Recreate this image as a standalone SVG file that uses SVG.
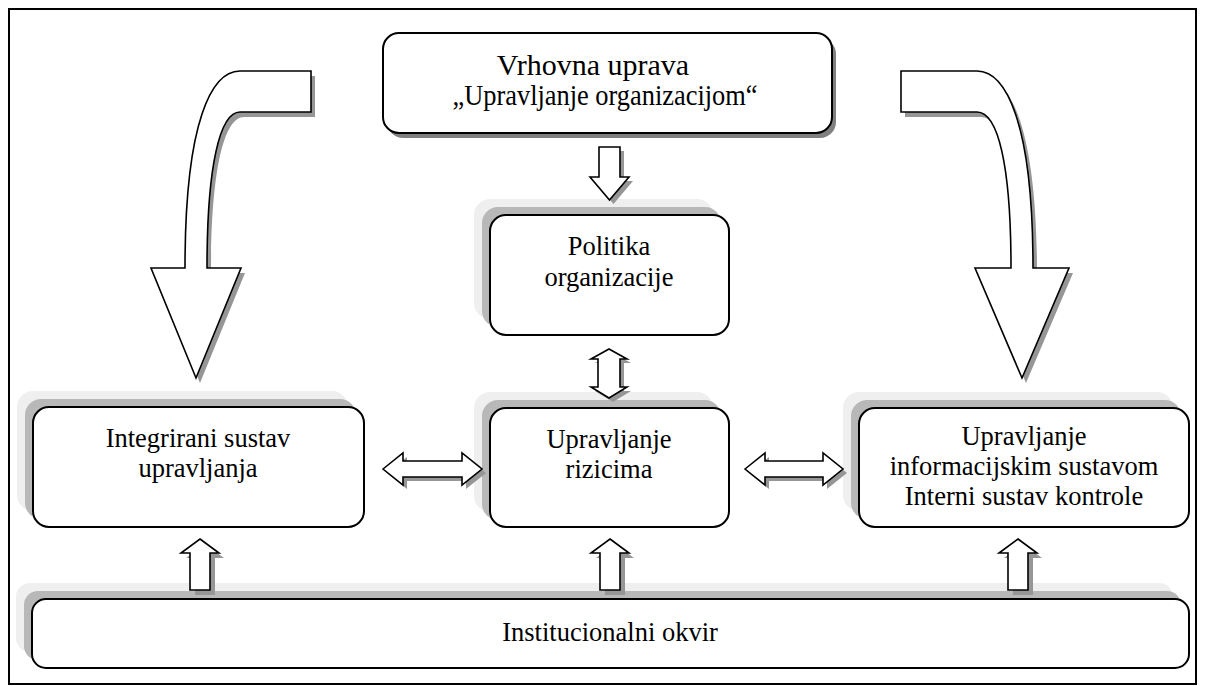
<svg xmlns="http://www.w3.org/2000/svg" width="1206" height="686" viewBox="0 0 1206 686">
<defs>
<style>
.box{fill:#fff;stroke:#000;stroke-width:2}
.sh1{fill:#efefef}
.sh2{fill:#b8b8b8}
.ash{fill:#969696}
.arr{fill:#fff;stroke:#000;stroke-width:1.6;stroke-linejoin:miter}
text{font-family:"Liberation Serif","Times New Roman",serif;font-size:26.5px;fill:#000;text-anchor:middle}
</style>
</defs>
<rect x="0" y="0" width="1206" height="686" fill="#fff"/>
<rect x="9" y="9" width="1187" height="675" fill="none" stroke="#000" stroke-width="2"/>

<g id="vrhovna">
  <rect x="387" y="38" width="449" height="100" rx="16" fill="#808080"/>
  <rect class="box" x="383" y="33" width="449" height="100" rx="16"/>
  <text x="593" y="75" style="font-size:30px">Vrhovna uprava</text>
  <text x="605" y="105" style="font-size:28.5px" textLength="305" lengthAdjust="spacingAndGlyphs">„Upravljanje organizacijom“</text>
</g>

<g id="politika">
  <rect class="sh1" x="474" y="199" width="239" height="120" rx="16"/>
  <rect class="sh2" x="482" y="207" width="239" height="120" rx="16"/>
  <rect class="box" x="490" y="215" width="239" height="120" rx="16"/>
  <text x="609" y="255">Politika</text>
  <text x="609" y="286">organizacije</text>
</g>

<g id="integrirani">
  <rect class="sh1" x="17" y="391" width="331" height="120" rx="16"/>
  <rect class="sh2" x="25" y="399" width="331" height="120" rx="16"/>
  <rect class="box" x="33" y="407" width="331" height="120" rx="16"/>
  <text x="198" y="447">Integrirani sustav</text>
  <text x="198" y="477">upravljanja</text>
</g>

<g id="rizici">
  <rect class="sh1" x="474" y="392" width="239" height="120" rx="16"/>
  <rect class="sh2" x="482" y="400" width="239" height="120" rx="16"/>
  <rect class="box" x="490" y="408" width="239" height="119" rx="16"/>
  <text x="609" y="448">Upravljanje</text>
  <text x="609" y="478">rizicima</text>
</g>

<g id="informacijski">
  <rect class="sh1" x="843" y="392" width="330" height="119" rx="16"/>
  <rect class="sh2" x="851" y="400" width="330" height="119" rx="16"/>
  <rect class="box" x="859" y="408" width="330" height="119" rx="16"/>
  <text x="1024" y="445">Upravljanje</text>
  <text x="1024" y="475">informacijskim sustavom</text>
  <text x="1024" y="505">Interni sustav kontrole</text>
</g>

<g id="institucionalni">
  <rect class="sh1" x="16" y="583" width="1157" height="69" rx="14"/>
  <rect class="sh2" x="24" y="591" width="1157" height="69" rx="14"/>
  <rect class="box" x="32" y="599" width="1157" height="69" rx="14"/>
  <text x="610" y="641">Institucionalni okvir</text>
</g>

<g id="connectors">
  <!-- left big curved arrow -->
  <g transform="translate(4,5)"><path class="ash" d="M311,71 L240,71 C212,71 185,120 185,268 L151,268 L196,378 L241,268 L207,268 C207,165 220,112 240,112 L311,112 Z"/></g>
  <path class="arr" d="M311,71 L240,71 C212,71 185,120 185,268 L151,268 L196,378 L241,268 L207,268 C207,165 220,112 240,112 L311,112 Z"/>
  <!-- right big curved arrow -->
  <g transform="translate(4,5)"><path class="ash" d="M901,71 L977,71 C1005,71 1033,120 1033,268 L1069,268 L1022,378 L975,268 L1011,268 C1011,165 998,112 977,112 L901,112 Z"/></g>
  <path class="arr" d="M901,71 L977,71 C1005,71 1033,120 1033,268 L1069,268 L1022,378 L975,268 L1011,268 C1011,165 998,112 977,112 L901,112 Z"/>
  <!-- down arrow top -->
  <g transform="translate(4,4)"><path class="ash" d="M599,147 L620,147 L620,177 L629,177 L609.5,200 L590,177 L599,177 Z"/></g>
  <path class="arr" d="M599,147 L620,147 L620,177 L629,177 L609.5,200 L590,177 L599,177 Z"/>
  <!-- vertical double arrow -->
  <g transform="translate(4,4)"><path class="ash" d="M609,349 L627,359 L620,359 L620,387 L627,387 L609,398 L591,387 L598,387 L598,359 L591,359 Z"/></g>
  <path class="arr" d="M609,349 L627,359 L620,359 L620,387 L627,387 L609,398 L591,387 L598,387 L598,359 L591,359 Z"/>
  <!-- left horizontal double arrow -->
  <g transform="translate(4,4)"><path class="ash" d="M383,469 L403,453 L403,461 L462,461 L462,453 L482,469 L462,485 L462,477 L403,477 L403,485 Z"/></g>
  <path class="arr" d="M383,469 L403,453 L403,461 L462,461 L462,453 L482,469 L462,485 L462,477 L403,477 L403,485 Z"/>
  <!-- right horizontal double arrow -->
  <g transform="translate(4,4)"><path class="ash" d="M745,469 L765,453 L765,461 L823,461 L823,453 L843,469 L823,485 L823,477 L765,477 L765,485 Z"/></g>
  <path class="arr" d="M745,469 L765,453 L765,461 L823,461 L823,453 L843,469 L823,485 L823,477 L765,477 L765,485 Z"/>
  <!-- up arrows -->
  <g transform="translate(5,5)"><path class="ash" d="M200,539 L219,553 L210,553 L210,590 L190,590 L190,553 L181,553 Z"/></g>
  <path class="arr" d="M200,539 L219,553 L210,553 L210,590 L190,590 L190,553 L181,553 Z"/>
  <g transform="translate(5,5)"><path class="ash" d="M610,539 L629,553 L620,553 L620,590 L600,590 L600,553 L591,553 Z"/></g>
  <path class="arr" d="M610,539 L629,553 L620,553 L620,590 L600,590 L600,553 L591,553 Z"/>
  <g transform="translate(5,5)"><path class="ash" d="M1018,539 L1037,553 L1028,553 L1028,590 L1008,590 L1008,553 L999,553 Z"/></g>
  <path class="arr" d="M1018,539 L1037,553 L1028,553 L1028,590 L1008,590 L1008,553 L999,553 Z"/>
</g>
</svg>
